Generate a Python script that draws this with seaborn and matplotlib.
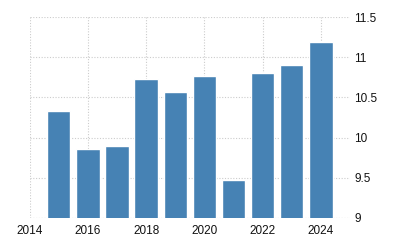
import matplotlib
matplotlib.use("Agg")
import matplotlib.pyplot as plt
import seaborn as sns
import pandas as pd

years = [2015, 2016, 2017, 2018, 2019, 2020, 2021, 2022, 2023, 2024]
values = [10.33, 9.86, 9.90, 10.73, 10.57, 10.76, 9.47, 10.80, 10.90, 11.19]
xticks = [2014, 2016, 2018, 2020, 2022, 2024]
yticks = [9, 9.5, 10, 10.5, 11, 11.5]
ytick_labels = ["9", "9.5", "10", "10.5", "11", "11.5"]

sns.set_style("white")
plt.rcParams['font.family'] = ['Liberation Sans', 'DejaVu Sans']

df = pd.DataFrame({"year": years, "value": values})

fig = plt.figure(figsize=(4, 2.5), dpi=100)
ax = fig.add_axes([0.074, 0.128, 0.801, 0.804])
sns.barplot(data=df, x="year", y="value", native_scale=True, width=0.8,
            color="#4682B4", saturation=1, ax=ax, zorder=3)

ax.set_xlim(2014, 2025)
ax.set_ylim(9, 11.5)
ax.set_xticks(xticks)
ax.set_xticklabels([str(t) for t in xticks])
ax.set_yticks(yticks)
ax.set_yticklabels(ytick_labels)
ax.yaxis.tick_right()
ax.set_xlabel("")
ax.set_ylabel("")
for s in ax.spines.values():
    s.set_visible(False)
ax.grid(True, color="#cccccc", linestyle=(0, (1, 1.5)), linewidth=0.8, zorder=0)
ax.set_axisbelow(True)
ax.tick_params(axis="y", length=0, pad=3, labelsize=8.5, colors="#111111")
ax.tick_params(axis="x", length=3, color="#cccccc", pad=2, labelsize=8.5, colors="#111111")
ax.axhline(9, color="#cccccc", linestyle=(0, (1, 1.5)), linewidth=0.8, zorder=0)

fig.savefig("out.png", dpi=100)
